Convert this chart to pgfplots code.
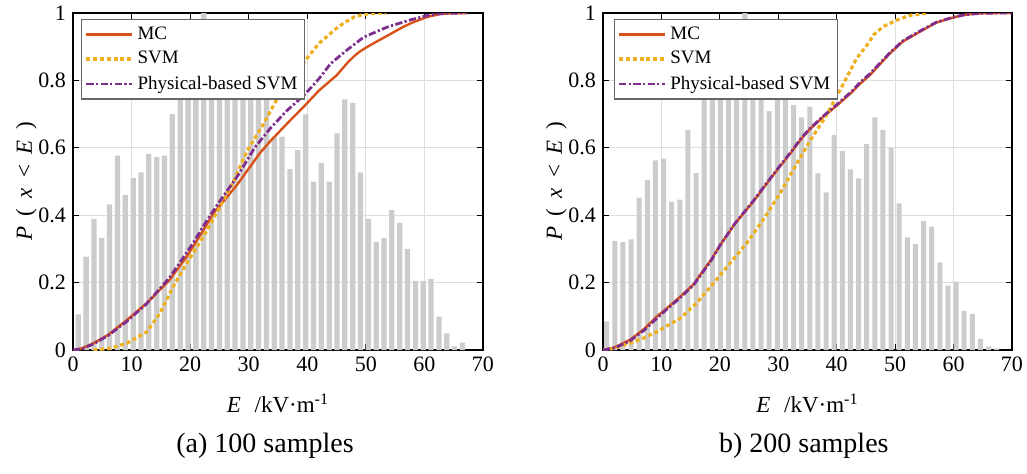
\documentclass[border=0pt]{standalone}
\usepackage{fontspec}
\setmainfont{Liberation Serif}
\usepackage{pgfplots}
\pgfplotsset{compat=1.18}
\definecolor{mcC}{RGB}{217,83,25}
\definecolor{svmC}{RGB}{237,177,32}
\definecolor{psvmC}{RGB}{126,47,142}
\definecolor{barC}{RGB}{204,204,204}
\pgfplotsset{
  panel/.style={
    scale only axis, height=168.5pt,
    xmin=0, xmax=70, ymin=0, ymax=1,
    xtick={0,10,20,30,40,50,60,70},
    ytick={0,0.2,0.4,0.6,0.8,1},
    grid=major, major grid style={black!13, line width=0.6pt},
    tick align=inside, major tick length=3pt,
    axis line style={black, line width=0.6pt},
    every tick/.style={black, line width=0.6pt},
    /pgf/number format/assume math mode=true,
    tick label style={font=\fontsize{11}{13}\selectfont},
    label style={font=\fontsize{11.5}{13}\selectfont},
    xlabel={\textit{E}\hspace{0.6em}/kV·m\textsuperscript{-1}},
    ylabel={\textit{P}\hspace{0.45em}(\hspace{0.45em}\textit{x}\hspace{0.45em}<\hspace{0.45em}\textit{E}\hspace{0.45em})},
    xlabel style={yshift=-4pt},
    ylabel style={yshift=-6pt},
    legend cell align=left,
    legend style={font=\fontsize{9.5}{12}\selectfont, draw=black!60, line width=0.6pt, fill=white,
      inner sep=1.5pt, row sep=0.5pt},
    legend image code/.code={\draw[#1] plot coordinates {(0cm,0cm) (0.8cm,0cm)};},
  },
  mc/.style={mcC, line width=1.2pt},
  svm/.style={svmC, line width=1.6pt, dash pattern=on 2pt off 1.4pt},
  psvm/.style={psvmC, line width=1.4pt, dash pattern=on 3.6pt off 1.2pt on 1.1pt off 1.2pt},
}
\begin{document}
\begin{tikzpicture}
\path[use as bounding box] (0,0) rectangle (513.5pt,236.5pt);
% ---------------- (a) 100 samples ----------------
\begin{axis}[panel, at={(36.5pt,61.5pt)}, anchor=south west, width=205pt,
  legend style={at={(0.02,0.982)}, anchor=north west}]
\addplot[ybar, bar width=0.9, fill=barC, draw=none, forget plot] coordinates {
(0.90,0.106) (2.24,0.277) (3.58,0.389) (4.92,0.333) (6.25,0.432) (7.59,0.577)
(8.93,0.460) (10.27,0.511) (11.61,0.527) (12.95,0.582) (14.29,0.572) (15.62,0.577)
(16.96,0.700) (18.30,0.80) (19.64,0.86) (20.98,0.82) (22.32,1.00) (23.66,0.90)
(25.00,0.85) (26.33,0.88) (27.67,0.82) (29.01,0.84) (30.35,0.79) (31.69,0.82)
(33.03,0.78) (34.37,0.633) (35.70,0.633) (37.04,0.537) (38.38,0.593) (39.72,0.699)
(41.06,0.500) (42.40,0.555) (43.74,0.500) (45.07,0.643) (46.41,0.744) (47.75,0.733)
(49.09,0.527) (50.43,0.389) (51.77,0.321) (53.11,0.332) (54.44,0.415) (55.78,0.377)
(57.12,0.300) (58.46,0.205) (59.80,0.205) (61.14,0.211) (62.48,0.099) (63.81,0.049)
(65.15,0.011) (66.49,0.022)};
\addplot[mc] coordinates {
(0,0) (1.5,0.005) (3.5,0.02) (6,0.045) (9.2,0.089) (12.6,0.139) (16.5,0.208)
(19.4,0.277) (21.7,0.34) (24,0.406) (28,0.49) (31.9,0.584) (33.7,0.62) (37,0.68)
(39.5,0.724) (42,0.77) (44,0.80) (45,0.815) (46,0.835) (47,0.855) (48,0.872)
(49,0.886) (50,0.897) (51.5,0.912) (53.6,0.932) (56.5,0.96) (58,0.972) (60.4,0.988)
(62.7,0.997) (64.5,0.999) (67.3,1)};
\addlegendentry{MC}
\addplot[svm] coordinates {
(3.5,0) (6.3,0.005) (9.2,0.02) (12.6,0.054) (14.85,0.109) (17.1,0.188) (19.4,0.257)
(22.25,0.336) (25.1,0.425) (27.4,0.5) (29.7,0.59) (32.5,0.67) (33.9,0.715) (35.3,0.76)
(37.5,0.815) (39.6,0.858) (42,0.91) (45,0.955) (46.4,0.972) (48,0.988) (49.6,0.996)
(52,1) (53.5,1)};
\addlegendentry{SVM}
\addplot[psvm] coordinates {
(0,0) (1.5,0.003) (3.5,0.018) (6,0.043) (9.2,0.085) (12.6,0.138) (16.5,0.215)
(20.5,0.317) (22.7,0.38) (25,0.44) (28.2,0.519) (31,0.6) (33.8,0.66) (36.5,0.71)
(39.5,0.757) (42,0.805) (44,0.85) (46.4,0.885) (49.6,0.928) (53.6,0.958) (57.5,0.979)
(61,0.995) (63.5,0.999) (67.3,1)};
\addlegendentry{Physical-based SVM}
\end{axis}
% ---------------- (b) 200 samples ----------------
\begin{axis}[panel, at={(301.5pt,61.5pt)}, anchor=south west, width=204.5pt,
  legend style={at={(0.027,0.982)}, anchor=north west}]
\addplot[ybar, bar width=0.86, fill=barC, draw=none, forget plot] coordinates {
(0.63,0.085) (2.02,0.323) (3.41,0.320) (4.80,0.328) (6.19,0.452) (7.58,0.505)
(8.97,0.563) (10.36,0.568) (11.75,0.440) (13.15,0.446) (14.54,0.653) (15.93,0.525)
(17.32,0.80) (18.71,0.86) (20.10,0.83) (21.49,0.90) (22.88,0.88) (24.27,1.00)
(25.66,0.85) (27.05,0.80) (28.44,0.709) (29.83,0.79) (31.22,0.82) (32.61,0.727)
(34.00,0.690) (35.40,0.722) (36.79,0.524) (38.18,0.468) (39.57,0.638) (40.96,0.590)
(42.35,0.536) (43.74,0.509) (45.13,0.611) (46.52,0.690) (47.91,0.653) (49.30,0.600)
(50.69,0.435) (52.08,0.334) (53.47,0.314) (54.86,0.383) (56.25,0.366) (57.65,0.260)
(59.04,0.191) (60.43,0.203) (61.82,0.116) (63.21,0.107) (64.60,0.032) (65.99,0.010)
(67.38,0.005)};
\addplot[mc] coordinates {
(0,0) (2,0.008) (4.6,0.03) (7,0.062) (9.2,0.099) (11,0.125) (13.2,0.158) (15.5,0.195)
(17.2,0.237) (18.6,0.27) (20,0.31) (22.6,0.375) (25.7,0.44) (28.3,0.5) (30.3,0.545)
(32,0.582) (34,0.628) (35.4,0.655) (37.7,0.692) (40,0.725) (42.6,0.765) (44,0.79)
(45.7,0.816) (47.5,0.85) (49.1,0.88) (51.3,0.915) (54.3,0.945) (57.1,0.972) (60,0.987)
(62,0.995) (64.5,0.999) (68,1) (70,1)};
\addlegendentry{MC}
\addplot[svm] coordinates {
(0,0) (2,0.005) (4.6,0.02) (7,0.036) (9.2,0.054) (13.2,0.094) (16,0.139) (18.9,0.198)
(21.7,0.257) (24.6,0.317) (27.4,0.386) (30.3,0.465) (33.2,0.554) (35.4,0.62) (38,0.69)
(40.6,0.772) (43.4,0.865) (45.4,0.91) (46.3,0.935) (48,0.96) (50.3,0.979) (52.5,0.993)
(55.7,1)};
\addlegendentry{SVM}
\addplot[psvm] coordinates {
(0,0) (2,0.006) (4.6,0.027) (7,0.058) (9.2,0.094) (11,0.122) (13.2,0.155) (15.5,0.193)
(17.2,0.234) (18.6,0.268) (20,0.31) (22.6,0.376) (25.7,0.442) (28.3,0.502) (30.3,0.547)
(32,0.584) (34,0.63) (35.4,0.657) (37.7,0.694) (40,0.728) (42.6,0.768) (44,0.794)
(45.7,0.82) (47.5,0.853) (49.1,0.882) (51.3,0.917) (54.3,0.947) (57.1,0.973) (60,0.988)
(62,0.995) (64.5,0.999) (68,1) (70,1)};
\addlegendentry{Physical-based SVM}
\end{axis}
\node[font=\fontsize{14}{16}\selectfont] at (132.5pt,13.5pt) {(a) 100 samples};
\node[font=\fontsize{14}{16}\selectfont] at (401.9pt,13.5pt) {b) 200 samples};
\end{tikzpicture}
\end{document}
